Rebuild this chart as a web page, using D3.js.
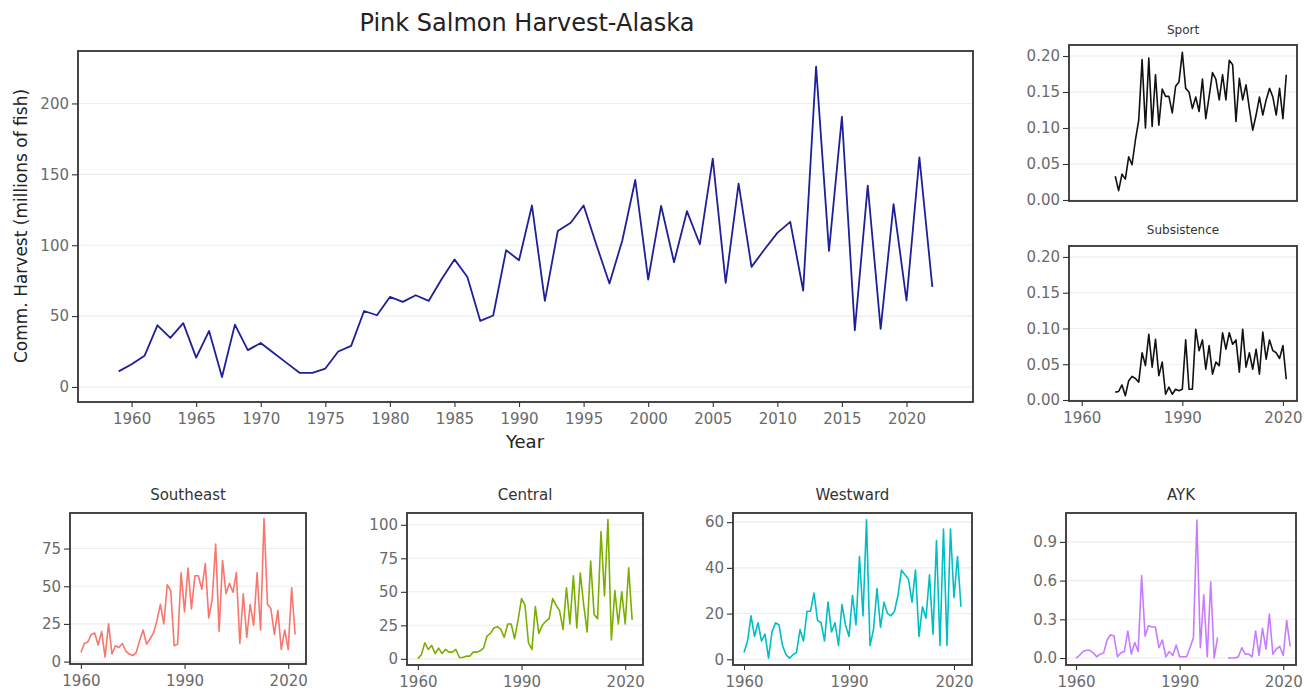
<!DOCTYPE html>
<html>
<head>
<meta charset="utf-8">
<script src="https://cdn.jsdelivr.net/npm/d3@7"></script>
<style>
  body { margin: 0; background: #fff; }
  text { font-family: "DejaVu Sans", "Liberation Sans", Arial, sans-serif; }
</style>
</head>
<body>
<svg id="chart" width="1305" height="694"></svg>
<script>
"use strict";

// ---- data (millions of fish) ----
const mainYears = d3.range(1959, 2023);
const mainHarvest = [
  11, 16, 22, 43.5, 34.6, 45, 20.7, 39.5, 7, 44, 26,
  31, 24, 17, 10, 10, 13, 25, 29, 53.6, 50.6,
  63.5, 60, 64.7, 60.7, 76, 90, 77.6, 46.6, 50.4, 96.5,
  89.4, 128, 60.7, 110, 115.8, 128, 100, 73, 103.5, 146,
  75.8, 127.8, 88, 124, 100.7, 161, 73.4, 143.5, 84.7, 97,
  108.7, 116.5, 68, 226, 96, 190.6, 40, 142, 41, 129,
  61, 162, 70.6
];

const recYears = d3.range(1970, 2022);
const sportHarvest = [
  0.033, 0.013, 0.036, 0.029, 0.060, 0.049, 0.083, 0.111, 0.195, 0.100,
  0.197, 0.102, 0.174, 0.104, 0.154, 0.144, 0.144, 0.121, 0.158, 0.164,
  0.205, 0.155, 0.150, 0.127, 0.143, 0.123, 0.168, 0.113, 0.144, 0.177,
  0.168, 0.139, 0.174, 0.139, 0.194, 0.188, 0.109, 0.169, 0.139, 0.160,
  0.127, 0.097, 0.118, 0.143, 0.118, 0.139, 0.155, 0.143, 0.118, 0.155,
  0.113, 0.174
];
const subsHarvest = [
  0.011, 0.012, 0.021, 0.006, 0.027, 0.033, 0.030, 0.025, 0.066, 0.048,
  0.092, 0.046, 0.085, 0.034, 0.053, 0.008, 0.018, 0.008, 0.015, 0.013,
  0.015, 0.084, 0.015, 0.015, 0.099, 0.069, 0.084, 0.043, 0.076, 0.036,
  0.053, 0.048, 0.094, 0.071, 0.094, 0.078, 0.084, 0.039, 0.099, 0.046,
  0.066, 0.043, 0.071, 0.036, 0.095, 0.057, 0.084, 0.069, 0.066, 0.058,
  0.076, 0.029
];

const regionYears = d3.range(1960, 2023);
const southeast = [
  6, 12, 13, 18, 19, 11, 20, 3, 25, 5,
  10.5, 9.4, 12, 7, 5, 4, 6, 14, 21, 11.6,
  15, 19, 27, 38, 25, 51, 47, 10.5, 11.6, 59,
  33, 62, 35, 57, 57, 48, 65, 29, 41, 78,
  20, 67, 45, 52, 46, 59, 12, 45, 16, 38,
  24, 59, 21, 95, 38, 35, 18, 34, 8, 21,
  8, 49, 18
];
const central = [
  0, 3, 12, 7, 10, 4, 8, 4, 7, 5,
  5, 7, 1, 1, 2, 2, 5, 5, 6, 8,
  17, 19, 23, 24, 22, 16, 26, 26, 15, 29,
  45, 40, 12, 7, 39, 19, 25, 28, 30, 45,
  40, 36, 22, 53, 26, 62, 23, 64, 40, 20,
  73, 33, 30, 95, 47, 104, 14, 51, 26, 50,
  26, 68, 29
];
const westward = [
  3, 8, 19, 10, 16, 8, 11, 0.5, 12, 16,
  15, 6, 2, 0.5, 2, 3, 13, 8, 21, 21,
  29, 17, 16, 8, 25, 12, 16, 6, 24, 15,
  10, 28, 15, 45, 19, 61, 6, 13, 31, 14,
  25, 20, 19, 21, 28, 39, 37, 35, 25, 39,
  10, 23, 18, 37, 11, 52, 6, 57, 6, 57,
  27, 45, 23
];
const ayk = [
  0, 0.02, 0.05, 0.06, 0.06, 0.04, 0.01, 0.03, 0.04, 0.14,
  0.18, 0.17, 0.01, 0.04, 0.05, 0.21, 0.03, 0.12, 0.05, 0.64,
  0.17, 0.25, 0.24, 0.24, 0.08, 0.14, 0.01, 0.05, 0.02, 0.10,
  0.01, 0.01, 0.01, 0.08, 0.16, 1.07, 0.08, 0.49, 0.01, 0.59,
  0.0, 0.16, null, null, 0.0, 0.0, 0.0, 0.01, 0.08, 0.03,
  0.03, 0.01, 0.21, 0.02, 0.23, 0.07, 0.34, 0.03, 0.07, 0.09,
  0.02, 0.29, 0.09
];

const svg = d3.select("#chart");

function styleAxis(sel, size) {
    sel.attr("font-family", null).attr("font-size", null);
    sel.select(".domain").remove();
    sel.selectAll(".tick line").attr("stroke", "#333").attr("stroke-width", 1.1);
    sel.selectAll(".tick text")
        .attr("fill", "#6a6a6a")
        .style("font-size", size + "px");
}

function drawPanel(o) {
    const x = d3.scaleLinear().domain(o.xDomain).range([o.left, o.left + o.width]);
    const y = d3.scaleLinear().domain(o.yDomain).range([o.top + o.height, o.top]);
    const g = svg.append("g");

    // horizontal grid only
    g.append("g").selectAll("line")
        .data(o.yTicks)
        .join("line")
        .attr("x1", o.left).attr("x2", o.left + o.width)
        .attr("y1", d => y(d)).attr("y2", d => y(d))
        .attr("stroke", "#ececec").attr("stroke-width", 1.1);

    const yAxis = g.append("g")
        .attr("transform", `translate(${o.left},0)`)
        .call(d3.axisLeft(y).tickValues(o.yTicks).tickFormat(o.yFormat)
            .tickSize(6).tickPadding(3));
    styleAxis(yAxis, o.tickFont);

    if (o.xTicks) {
        const xAxis = g.append("g")
            .attr("transform", `translate(0,${o.top + o.height})`)
            .call(d3.axisBottom(x).tickValues(o.xTicks).tickFormat(d3.format("d"))
                .tickSize(5).tickPadding(6));
        styleAxis(xAxis, o.tickFont);
    }

    const line = d3.line()
        .defined(d => d[1] != null)
        .x(d => x(d[0]))
        .y(d => y(d[1]));
    g.append("path")
        .datum(d3.zip(o.years, o.values))
        .attr("d", line)
        .attr("fill", "none")
        .attr("stroke", o.color)
        .attr("stroke-width", o.lineWidth || 1.6)
        .attr("stroke-linejoin", "round");

    g.append("rect")
        .attr("x", o.left).attr("y", o.top)
        .attr("width", o.width).attr("height", o.height)
        .attr("fill", "none").attr("stroke", "#333").attr("stroke-width", 1.8);

    if (o.title) {
        g.append("text")
            .attr("x", o.left + o.width / 2).attr("y", o.titleY)
            .attr("text-anchor", "middle")
            .attr("dominant-baseline", "middle")
            .attr("fill", "#333")
            .style("font-size", o.titleSize + "px")
            .text(o.title);
    }
}

// main commercial harvest
drawPanel({
    left: 78, top: 51, width: 895, height: 351,
    xDomain: [1955.85, 2025.15], yDomain: [-10.6, 237],
    yTicks: [0, 50, 100, 150, 200], yFormat: d3.format("d"),
    xTicks: d3.range(1960, 2021, 5), tickFont: 15,
    years: mainYears, values: mainHarvest, color: "#1f1f99", lineWidth: 1.8
});
svg.append("text")
    .attr("x", 527).attr("y", 24)
    .attr("text-anchor", "middle").attr("dominant-baseline", "middle")
    .attr("fill", "#222").style("font-size", "24px")
    .text("Pink Salmon Harvest-Alaska");
svg.append("text")
    .attr("transform", "translate(22,226) rotate(-90)")
    .attr("text-anchor", "middle").attr("dominant-baseline", "middle")
    .attr("fill", "#222").style("font-size", "17px")
    .text("Comm. Harvest (millions of fish)");
svg.append("text")
    .attr("x", 525).attr("y", 443)
    .attr("text-anchor", "middle").attr("dominant-baseline", "middle")
    .attr("fill", "#222").style("font-size", "18px")
    .text("Year");

// sport / subsistence
const recTicks = [0, 0.05, 0.10, 0.15, 0.20];
drawPanel({
    left: 1069, top: 45, width: 228, height: 156,
    xDomain: [1956.2, 2024.2], yDomain: [-0.0014, 0.2153],
    yTicks: recTicks, yFormat: d3.format(".2f"), tickFont: 15,
    years: recYears, values: sportHarvest, color: "#111",
    title: "Sport", titleY: 30, titleSize: 12
});
drawPanel({
    left: 1069, top: 246, width: 228, height: 155,
    xDomain: [1956.2, 2024.2], yDomain: [-0.0014, 0.2153],
    yTicks: recTicks, yFormat: d3.format(".2f"), tickFont: 15,
    xTicks: [1960, 1990, 2020],
    years: recYears, values: subsHarvest, color: "#111",
    title: "Subsistence", titleY: 230, titleSize: 12
});

// regions
const regionX = [1956.85, 2025.15];
drawPanel({
    left: 70, top: 513, width: 236, height: 151,
    xDomain: regionX, yDomain: [-1.6, 98.6],
    yTicks: [0, 25, 50, 75], yFormat: d3.format("d"), tickFont: 15,
    xTicks: [1960, 1990, 2020],
    years: regionYears, values: southeast, color: "#F8766D",
    title: "Southeast", titleY: 495, titleSize: 15
});
drawPanel({
    left: 407, top: 513, width: 236, height: 152,
    xDomain: regionX, yDomain: [-4.6, 108.8],
    yTicks: [0, 25, 50, 75, 100], yFormat: d3.format("d"), tickFont: 15,
    xTicks: [1960, 1990, 2020],
    years: regionYears, values: central, color: "#7CAE00",
    title: "Central", titleY: 495, titleSize: 15
});
drawPanel({
    left: 733, top: 513, width: 239, height: 152,
    xDomain: regionX, yDomain: [-2.5, 64],
    yTicks: [0, 20, 40, 60], yFormat: d3.format("d"), tickFont: 15,
    xTicks: [1960, 1990, 2020],
    years: regionYears, values: westward, color: "#00BFC4",
    title: "Westward", titleY: 495, titleSize: 15
});
drawPanel({
    left: 1066, top: 513, width: 230, height: 152,
    xDomain: [1957.1, 2023.7], yDomain: [-0.054, 1.124],
    yTicks: [0, 0.3, 0.6, 0.9], yFormat: d3.format(".1f"), tickFont: 15,
    xTicks: [1960, 1990, 2020],
    years: regionYears, values: ayk, color: "#C77CFF",
    title: "AYK", titleY: 495, titleSize: 15
});
</script>
</body>
</html>
